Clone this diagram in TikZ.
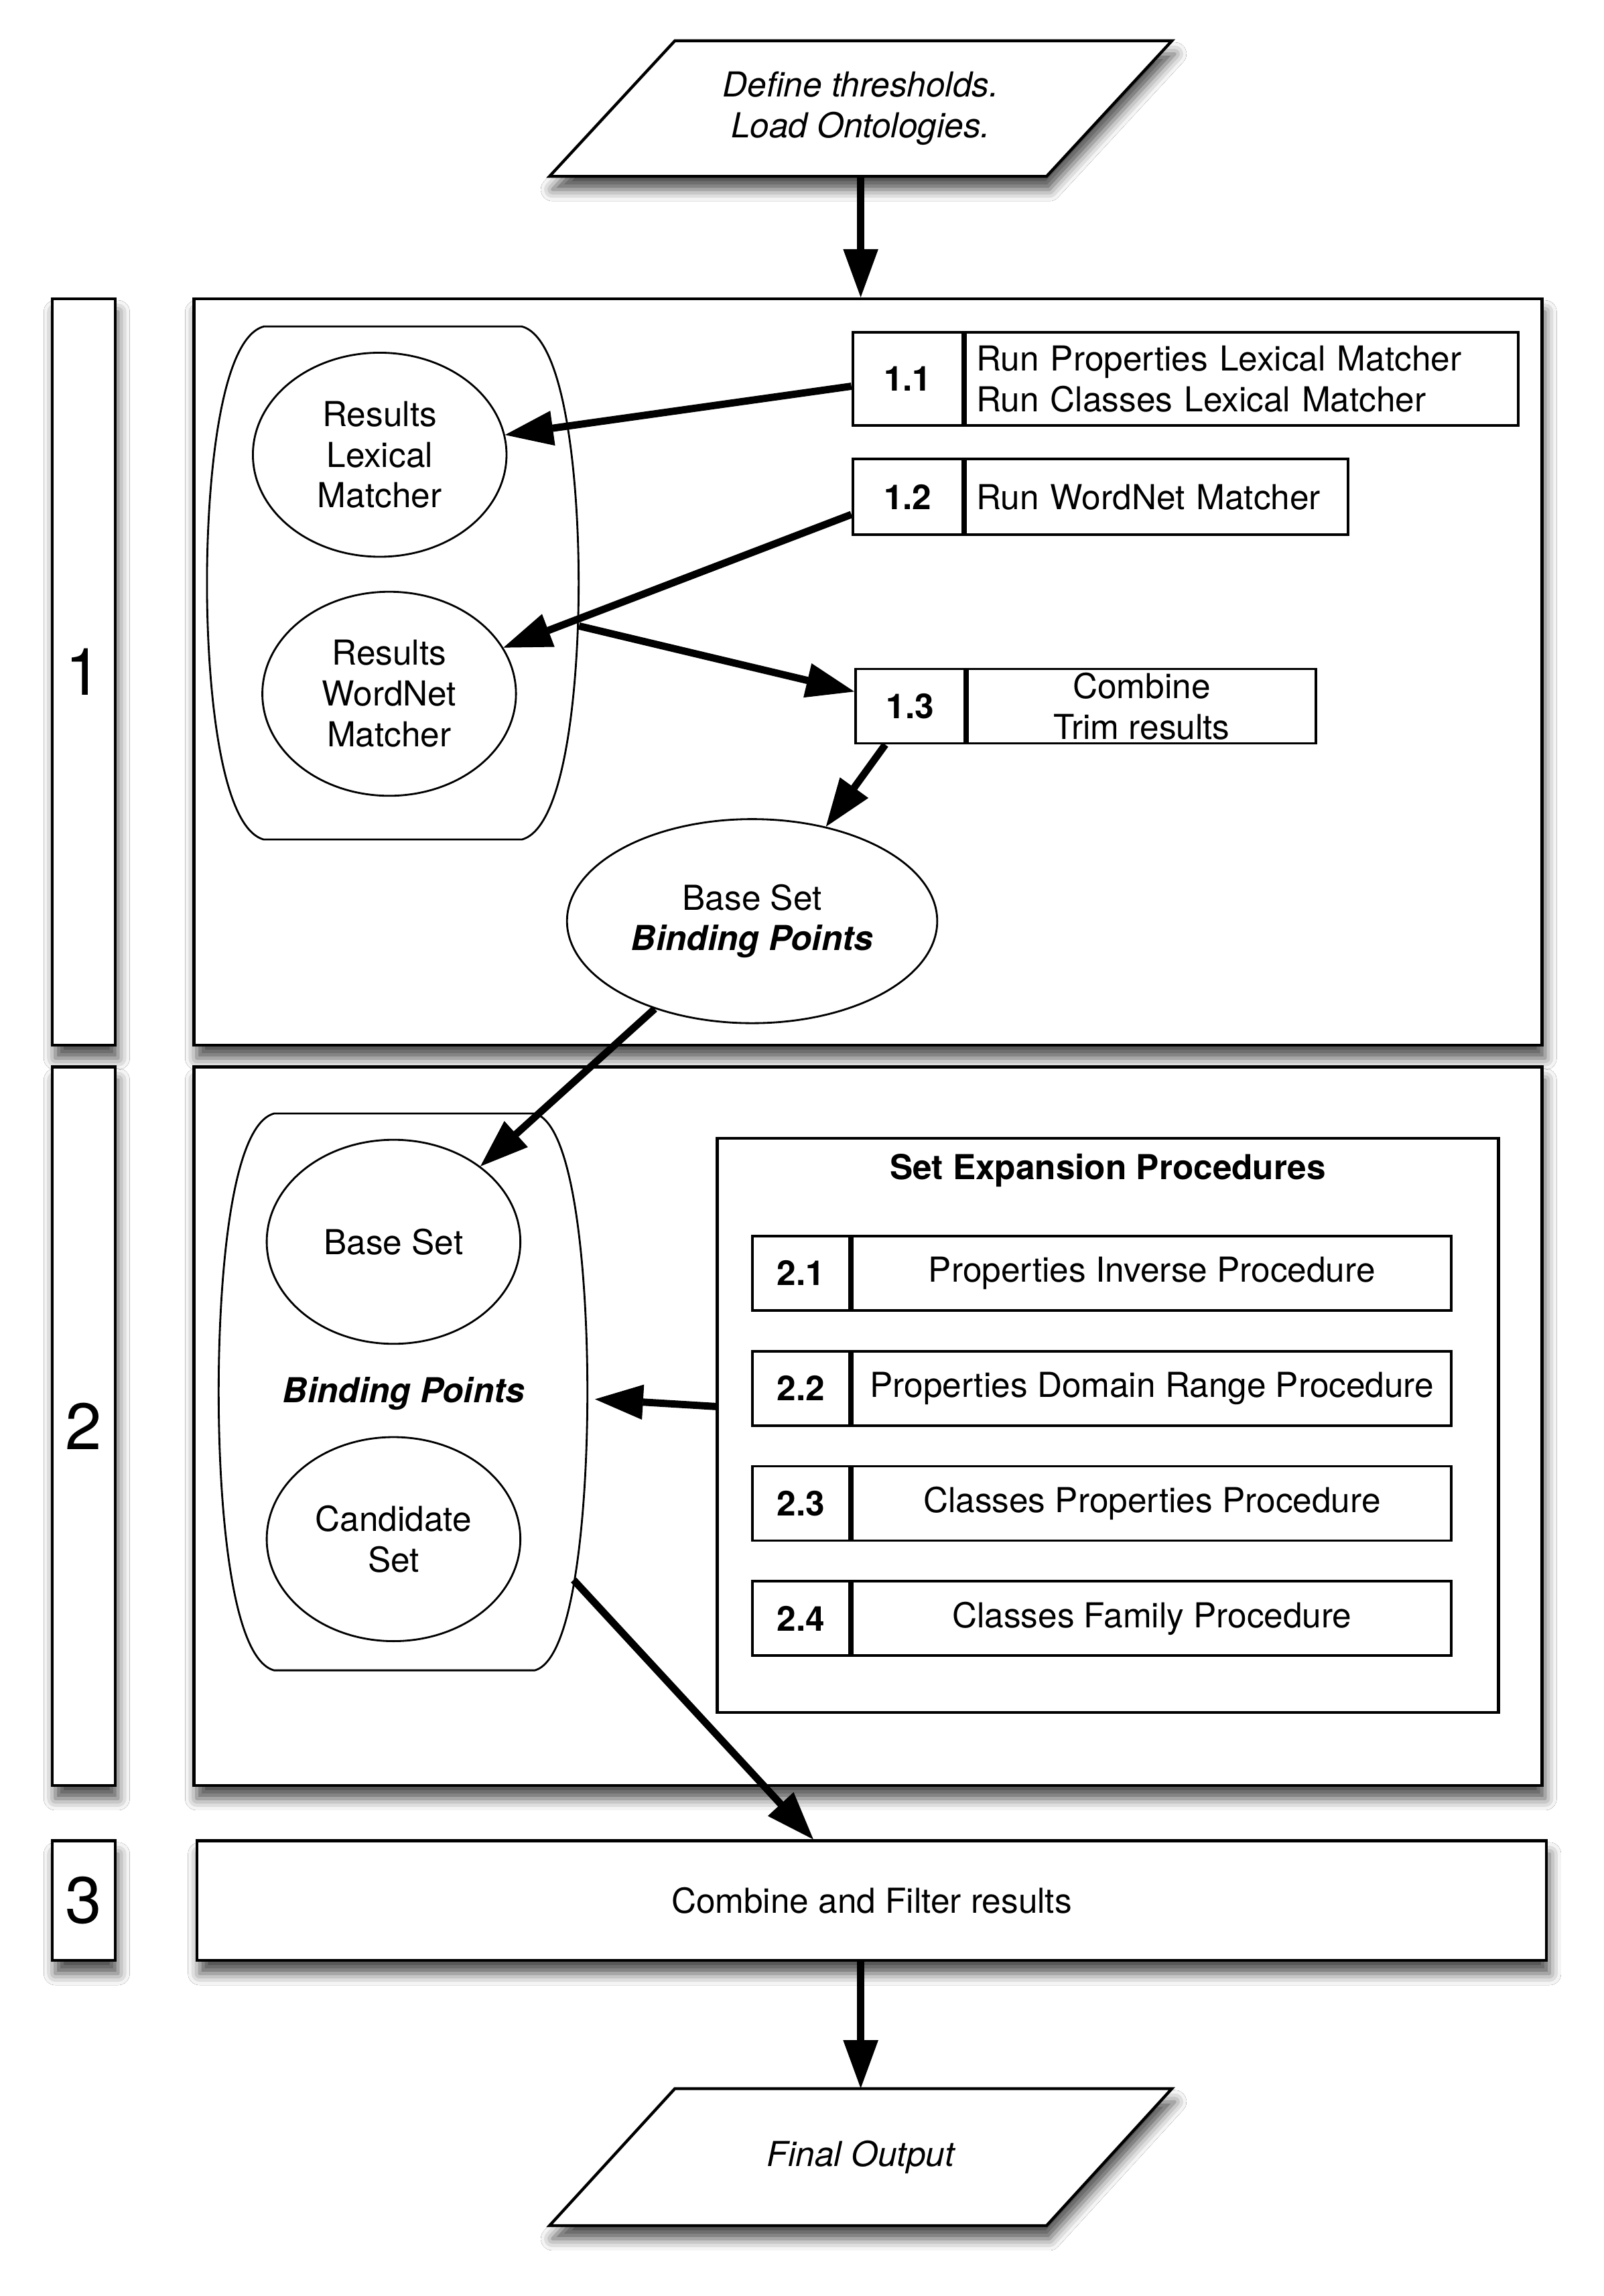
\documentclass[tikz,border=0pt]{standalone}
\usepackage{fontspec}
\setmainfont{TeX Gyre Heros}
\usetikzlibrary{arrows.meta,shapes.geometric,shadows.blur,calc}
\newcommand\fnt{\fontsize{23.6}{28}\selectfont}
\newcommand\bigfnt{\fontsize{45}{50}\selectfont}
\begin{document}
\begin{tikzpicture}[x=1pt,y=-1pt,
 shd/.style={blur shadow={shadow xshift=2pt,shadow yshift=-9pt,shadow blur radius=8pt,shadow opacity=70}},
 frame/.style={draw,line width=2pt,fill=white,shd},
 lbl/.style={frame,inner sep=0pt,font=\bigfnt},
 panel/.style={frame,inner sep=0pt},
 cell/.style={draw,line width=1.8pt,fill=white,inner sep=0pt,font=\fnt},
 num/.style={cell,font=\fnt\bfseries},
 ell/.style={draw,ellipse,line width=1.3pt,fill=white,inner sep=0pt,align=center,font=\fnt,minimum width=174pt,minimum height=140pt},
 cont/.style={draw,line width=1.3pt,fill=white},
 anchorbox/.style={draw=none,inner sep=0pt},
 txt/.style={inner sep=0pt,font=\fnt,align=center},
 arr/.style={draw=black,line width=5pt,-{Triangle[length=33pt,width=24pt,fill=black,line width=0.5pt]}},
]
\fill[white] (0,0) rectangle (1100,1575.3);
\useasboundingbox (0,0) rectangle (1100,1575.3);

% top parallelogram
\coordinate (p1c) at (590.5,74.5);
\draw[frame] ($(p1c)+(-127.5,-46.5)$) -- ++(341,0) -- ++(-86,93) -- ++(-341,0) -- cycle;
\node[txt,font=\fnt\itshape,minimum width=250pt,minimum height=93pt] (p1) at (p1c) {Define thresholds.\\Load Ontologies.};

% section 1
\node[lbl,minimum width=43pt,minimum height=512pt] (l1) at (57.5,461) {1};
\node[panel,minimum width=925pt,minimum height=512pt] (b1) at (595.5,461) {};

\draw[cont] (181,224) -- (358,224) .. controls (388,232) and (397,330) .. (397,400) .. controls (397,470) and (388,568) .. (358,576) -- (181,576) .. controls (151,568) and (142,470) .. (142,400) .. controls (142,330) and (151,232) .. (181,224) -- cycle;
\node[anchorbox,minimum width=255pt,minimum height=352pt] (c1) at (269.5,400) {};
\node[ell] (lex) at (260.5,312) {Results\\Lexical\\Matcher};
\node[ell] (wn) at (267,476) {Results\\WordNet\\Matcher};

\node[num,minimum width=75.5pt,minimum height=64pt] (n11) at (622.75,260) {1.1};
\node[cell,anchor=west,minimum height=64pt,text width=364.5pt,inner xsep=7.5pt,align=left] (t11) at (n11.east) {Run Properties Lexical Matcher\\Run Classes Lexical Matcher};
\node[num,minimum width=75.5pt,minimum height=52pt] (n12) at (622.75,341) {1.2};
\node[cell,anchor=west,minimum height=52pt,text width=247.5pt,inner xsep=7.5pt,align=left] (t12) at (n12.east) {Run WordNet Matcher};
\node[num,minimum width=75pt,minimum height=51pt] (n13) at (624.5,484.5) {1.3};
\node[cell,anchor=west,minimum width=239pt,minimum height=51pt,align=center] (t13) at (n13.east) {Combine\\Trim results};

\node[ell,minimum width=254pt] (bp1) at (516,632) {Base Set\\\textbf{\textit{Binding Points}}};

% section 2
\node[lbl,minimum width=43pt,minimum height=493pt] (l2) at (57.5,978.5) {2};
\node[panel,minimum width=925pt,minimum height=493pt] (b2) at (595.5,978.5) {};

\draw[cont] (188,764) -- (367,764) .. controls (395,772) and (403,880) .. (403,955) .. controls (403,1030) and (395,1138) .. (367,1146) -- (188,1146) .. controls (158,1138) and (150,1030) .. (150,955) .. controls (150,880) and (158,772) .. (188,764) -- cycle;
\node[anchorbox,minimum width=253pt,minimum height=382pt] (c2) at (276.5,955) {};
\node[ell] (bs2) at (270,852) {Base Set};
\node[txt,font=\fnt\bfseries\itshape] (bpt) at (277,956) {Binding Points};
\node[ell] (cs2) at (270,1056) {Candidate\\Set};

\node[draw,line width=2pt,fill=white,inner sep=0pt,minimum width=536pt,minimum height=394pt] (sep) at (760,978) {};
\node[txt,font=\fnt\bfseries] (sept) at (760,803) {Set Expansion Procedures};
\foreach \i/\yy/\tx in {1/873.5/Properties Inverse Procedure,2/952.5/Properties Domain Range Procedure,3/1031.5/Classes Properties Procedure,4/1110.5/Classes Family Procedure}{
  \node[num,minimum width=67pt,minimum height=51pt] (n2\i) at (549.5,\yy) {2.\i};
  \node[cell,anchor=west,minimum width=411pt,minimum height=51pt] (t2\i) at (n2\i.east) {\tx};
}

% section 3
\node[lbl,minimum width=43pt,minimum height=82pt] (l3) at (57.5,1304) {3};
\node[panel,minimum width=926pt,minimum height=82pt,font=\fnt] (b3) at (598,1304) {Combine and Filter results};

% final parallelogram
\coordinate (p2c) at (590.5,1480);
\draw[frame] ($(p2c)+(-127.5,-47)$) -- ++(341,0) -- ++(-86,94) -- ++(-341,0) -- cycle;
\node[txt,font=\fnt\itshape,minimum width=250pt,minimum height=94pt] (p2) at (p2c) {Final Output};

% arrows
\draw[arr] (p1.south) -- (p1.south |- b1.north);
\draw[arr] ([yshift=-5pt]n11.west) -- (lex.9);
\draw[arr] ([yshift=-12pt]n12.west) -- (wn.22);
\draw[arr] (c1.-13) -- ([yshift=10pt]n13.west);
\draw[arr] (n13.-123) -- (bp1.52);
\draw[arr] (bp1.-138) -- (bs2.41);
\draw[arr] ([yshift=13pt]sep.west) -- ([xshift=5pt,yshift=-5pt]c2.east);
\draw[arr] ($(c2.center)+(117,129)$) -- ([xshift=-40pt]b3.north);
\draw[arr] (b3.south -| p2.north) -- (p2.north);
\end{tikzpicture}
\end{document}
